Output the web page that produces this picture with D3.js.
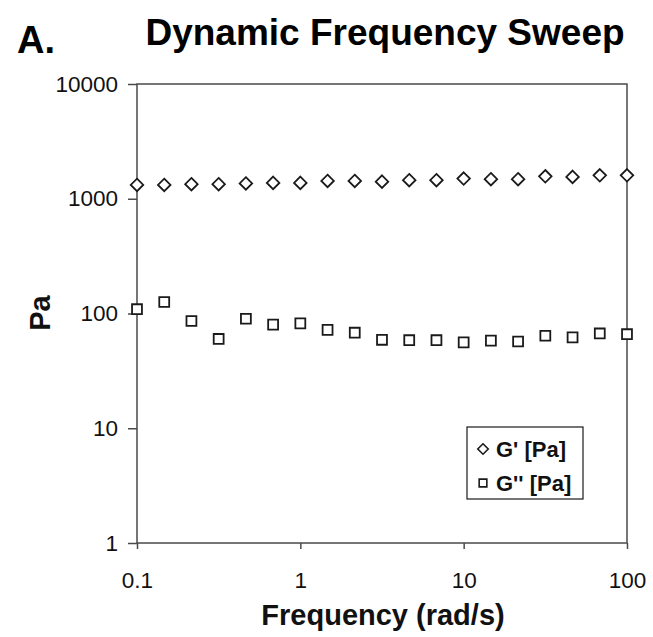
<!DOCTYPE html>
<html>
<head>
<meta charset="utf-8">
<script src="https://cdn.jsdelivr.net/npm/d3@7"></script>
<style>
  html, body { margin: 0; padding: 0; background: #fff; }
  svg { display: block; font-family: "Liberation Sans", Arial, sans-serif; }
</style>
</head>
<body>
<svg id="chart" width="653" height="637"></svg>
<script>
// Frequency sweep: 6 points per decade from 0.1 to 100 rad/s
const frequency = [0.1, 0.1468, 0.2154, 0.3162, 0.4642, 0.6813, 1, 1.468, 2.154, 3.162,
                   4.642, 6.813, 10, 14.68, 21.54, 31.62, 46.42, 68.13, 100];
const storageModulus = [1320, 1320, 1340, 1340, 1360, 1375, 1375, 1430, 1430, 1410,
                        1450, 1450, 1500, 1480, 1480, 1570, 1550, 1600, 1600];
const lossModulus = [109, 126, 86, 60, 90, 80, 82, 72, 68, 59,
                     58.5, 58.5, 56, 58, 57, 64, 62, 67, 66];
const xTicks = [0.1, 1, 10, 100];
const yTicks = [1, 10, 100, 1000, 10000];
const seriesNames = ["G' [Pa]", "G'' [Pa]"];

const svg = d3.select("#chart");
const plot = { left: 137, right: 627, top: 84, bottom: 543 };
const ink = "#1a1a1a";
const axisInk = "#4a4a4a";

const x = d3.scaleLog().domain([0.1, 100]).range([plot.left, plot.right]);
const y = d3.scaleLog().domain([1, 10000]).range([plot.bottom, plot.top]);

// Title and panel letter
svg.append("text").attr("x", 17).attr("y", 53)
  .attr("font-size", 38).attr("font-weight", "bold").attr("fill", "#000").text("A.");
svg.append("text").attr("x", 385).attr("y", 45).attr("text-anchor", "middle")
  .attr("font-size", 37).attr("font-weight", "bold").attr("fill", "#000")
  .text("Dynamic Frequency Sweep");

// Frame
svg.append("rect")
  .attr("x", plot.left).attr("y", plot.top)
  .attr("width", plot.right - plot.left).attr("height", plot.bottom - plot.top)
  .attr("fill", "none").attr("stroke", axisInk).attr("stroke-width", 1.5);

// Axes
const yAxis = d3.axisLeft(y).tickValues(yTicks).tickFormat(d3.format("d"))
  .tickSize(9).tickPadding(10);
const gy = svg.append("g").attr("transform", `translate(${plot.left},0)`).call(yAxis);
gy.select(".domain").remove();
gy.selectAll(".tick line").attr("stroke", axisInk).attr("stroke-width", 1.5);
gy.selectAll(".tick text").attr("font-size", 22.5).attr("fill", "#111")
  .attr("font-family", "Liberation Sans, Arial, sans-serif");

const xAxis = d3.axisBottom(x).tickValues(xTicks).tickFormat(d => String(d))
  .tickSize(6).tickPadding(23);
const gx = svg.append("g").attr("transform", `translate(0,${plot.bottom})`).call(xAxis);
gx.select(".domain").remove();
gx.selectAll(".tick line").attr("stroke", axisInk).attr("stroke-width", 1.5);
gx.selectAll(".tick text").attr("font-size", 22.5).attr("fill", "#111")
  .attr("font-family", "Liberation Sans, Arial, sans-serif");

// Axis titles
svg.append("text").attr("x", 383).attr("y", 625).attr("text-anchor", "middle")
  .attr("font-size", 29).attr("font-weight", "bold").attr("fill", "#111")
  .text("Frequency (rad/s)");
svg.append("text").attr("transform", "translate(50,313) rotate(-90)")
  .attr("text-anchor", "middle").attr("font-size", 29).attr("font-weight", "bold")
  .attr("fill", "#111").text("Pa");

// Markers
const diamond = d3.symbol().type(d3.symbolDiamond2).size(100);
const square = d3.symbol().type(d3.symbolSquare2).size(125);

svg.append("g").selectAll("path").data(frequency)
  .join("path")
  .attr("d", diamond)
  .attr("transform", (d, i) => `translate(${x(d)},${y(storageModulus[i])})`)
  .attr("fill", "#fff").attr("stroke", ink).attr("stroke-width", 1.8);

svg.append("g").selectAll("path").data(frequency)
  .join("path")
  .attr("d", square)
  .attr("transform", (d, i) => `translate(${x(d)},${y(lossModulus[i])})`)
  .attr("fill", "#fff").attr("stroke", ink).attr("stroke-width", 1.8);

// Legend
const lg = svg.append("g").attr("transform", "translate(467,427)");
lg.append("rect").attr("width", 116).attr("height", 72)
  .attr("fill", "#fff").attr("stroke", ink).attr("stroke-width", 1.2);
const legendSymbols = [d3.symbol().type(d3.symbolDiamond2).size(70), d3.symbol().type(d3.symbolSquare2).size(75)];
seriesNames.forEach((name, i) => {
  const cy = 22 + i * 34;
  lg.append("path").attr("d", legendSymbols[i])
    .attr("transform", `translate(16,${cy})`)
    .attr("fill", "#fff").attr("stroke", ink).attr("stroke-width", 1.6);
  lg.append("text").attr("x", 29).attr("y", cy + 8)
    .attr("font-size", 22).attr("font-weight", "bold").attr("fill", "#111").text(name);
});
</script>
</body>
</html>
